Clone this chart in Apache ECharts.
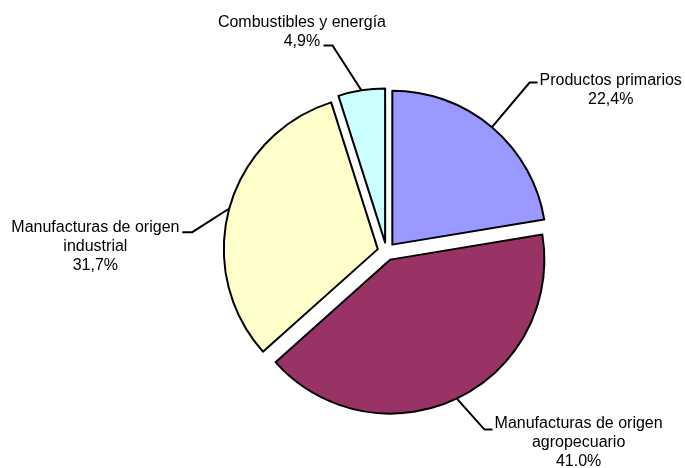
<!DOCTYPE html>
<html><head><meta charset="utf-8">
<script src="https://cdn.jsdelivr.net/npm/echarts@6/dist/echarts.min.js"></script>
<style>html,body{margin:0;padding:0;background:#fff}#c{width:685px;height:468px}</style>
</head><body><div id="c"></div>
<script>
const categories = ['Productos primarios', 'Manufacturas de origen agropecuario', 'Manufacturas de origen industrial', 'Combustibles y energía'];
const values = [22.4, 41.0, 31.7, 4.9];
const labelTexts = [
  ['Productos primarios', '22,4%'],
  ['Manufacturas de origen', 'agropecuario', '41.0%'],
  ['Manufacturas de origen', 'industrial', '31,7%'],
  ['Combustibles y energía', '4,9%']
];
const colors = ['#9999FF', '#993366', '#FFFFCC', '#CCFFFF'];

// label placement (library label layout lengths) and drawn leader shape,
// both relative to the library's anchor point on each arc
const leaders = [
  { len: 49.3, len2: 15.7, pad: 0, align: 'left', p1: [37.6, -44.6], h: 8 },
  { len: 49.0, len2: 16.6, pad: 0, align: 'left', p1: [27.7, 31], h: 8 },
  { len: 10, len2: 40.2, pad: 81, align: 'right', p1: [-37, 23.7], h: -10 },
  { len: 59.1, len2: 50.5, pad: 0, align: 'center', p1: [-29, -45], h: -9 }
];

const chart = echarts.init(document.getElementById('c'), null, { renderer: 'canvas' });
chart.setOption({
  backgroundColor: '#ffffff',
  animation: false,
  series: [{
    type: 'pie',
    center: [386.5, 251.5],
    radius: 154,
    startAngle: 90,
    clockwise: true,
    selectedMode: 'multiple',
    selectedOffset: 9,
    avoidLabelOverlap: false,
    data: categories.map((name, i) => ({
      name: name,
      value: values[i],
      selected: true,
      itemStyle: { color: colors[i] },
      select: { itemStyle: { color: colors[i], borderColor: '#000', borderWidth: 2 } },
      label: {
        formatter: labelTexts[i].map(t => '{a|' + t + '}').join('\n'),
        padding: [leaders[i].pad, 0, 0, 0]
      },
      labelLine: { length: leaders[i].len, length2: leaders[i].len2 }
    })),
    itemStyle: { borderColor: '#000000', borderWidth: 2 },
    label: {
      show: true,
      position: 'outside',
      distanceToLabelLine: 0,
      color: '#000',
      fontFamily: 'Liberation Sans, Arial, sans-serif',
      fontSize: 16,
      lineHeight: 19,
      rich: { a: { align: 'center', fontFamily: 'Liberation Sans, Arial, sans-serif', fontSize: 16, lineHeight: 19, color: '#000' } }
    },
    labelLine: { show: true, lineStyle: { color: '#000', width: 2 } },
    emphasis: { disabled: true },
    labelLayout: function (params) {
      const L = leaders[params.dataIndex];
      const p0 = params.labelLinePoints[0];
      const p1 = [p0[0] + L.p1[0], p0[1] + L.p1[1]];
      const p2 = [p1[0] + L.h, p1[1]];
      return {
        align: L.align,
        verticalAlign: 'middle',
        labelLinePoints: [p0, p1, p2]
      };
    }
  }]
});
</script>
</body></html>
